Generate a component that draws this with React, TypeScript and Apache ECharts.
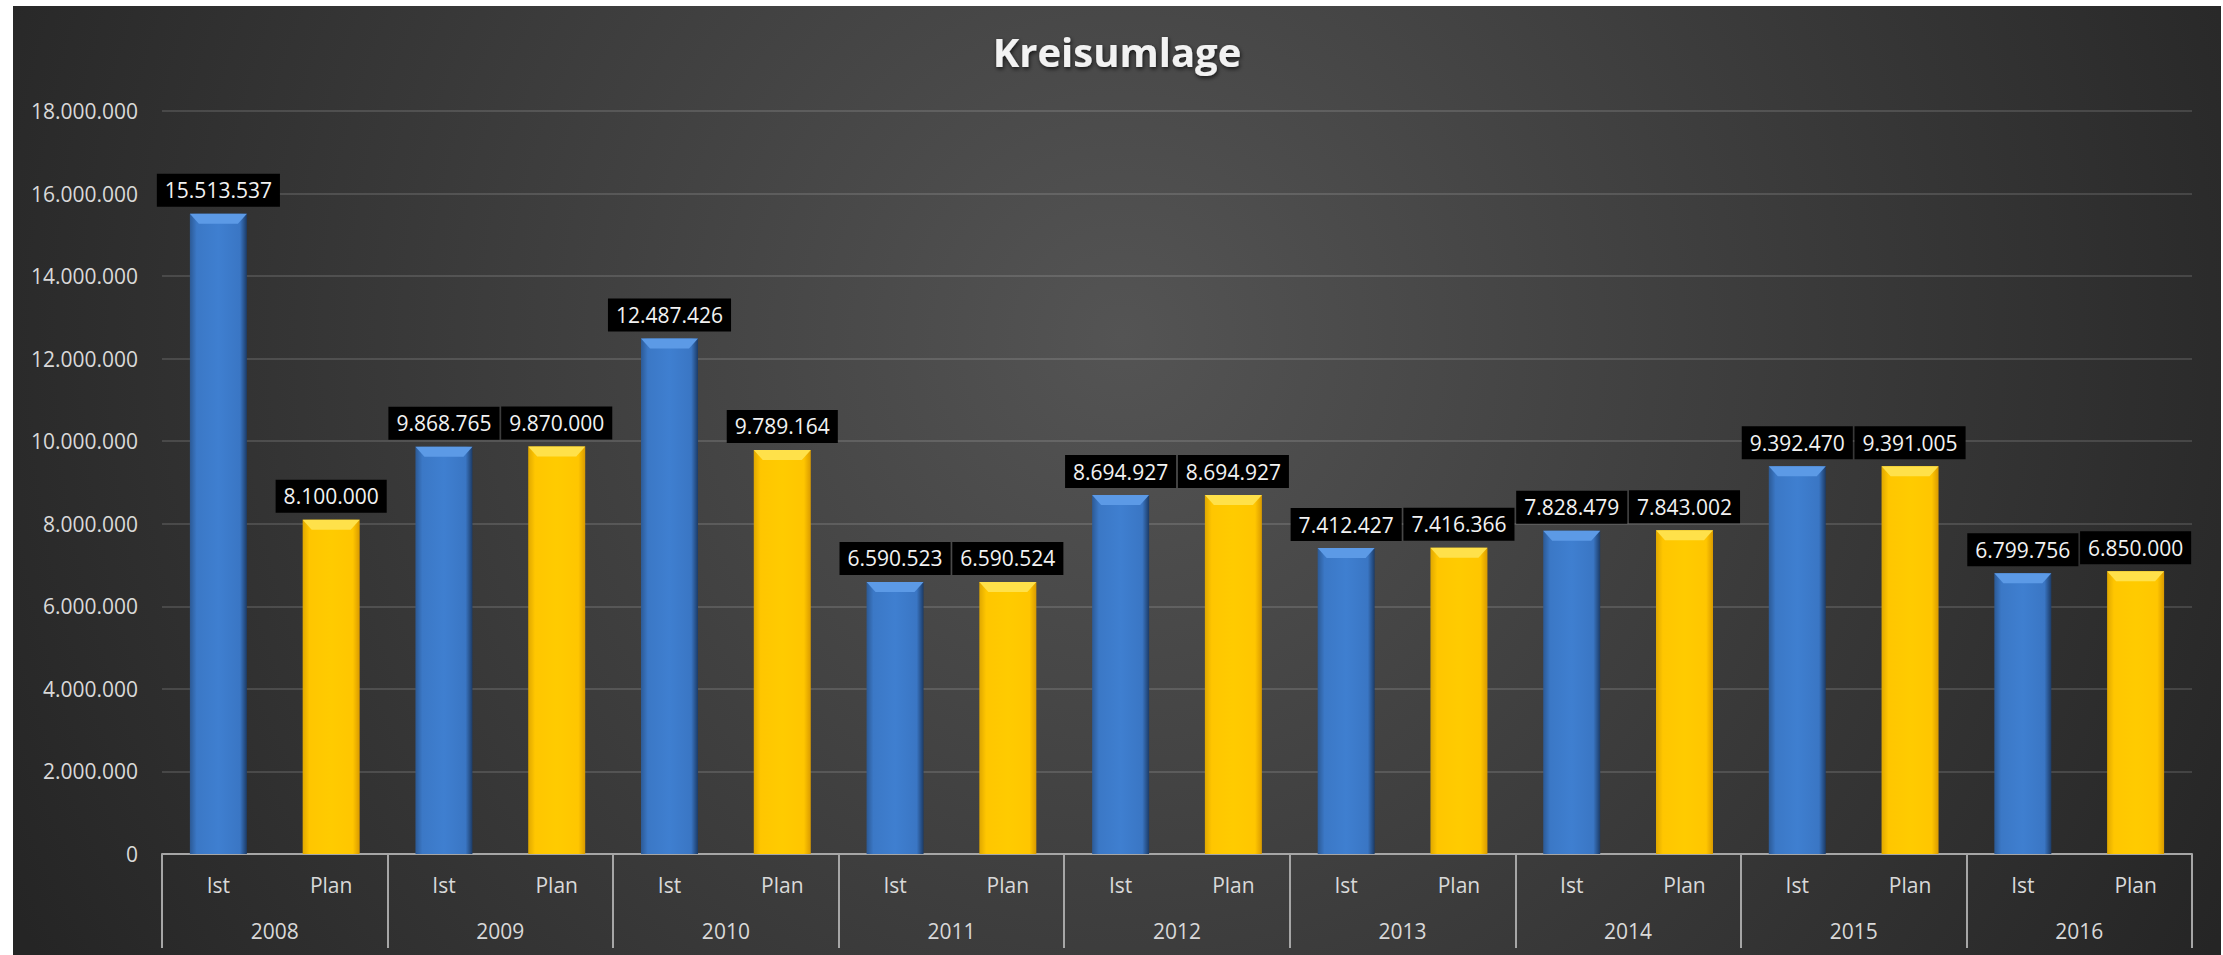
import React, { useEffect, useRef } from "react";
import * as echarts from "echarts";

const years = ["2008", "2009", "2010", "2011", "2012", "2013", "2014", "2015", "2016"];
const kinds = ["Ist", "Plan"];
const istValues = [15513537, 9868765, 12487426, 6590523, 8694927, 7412427, 7828479, 9392470, 6799756];
const planValues = [8100000, 9870000, 9789164, 6590524, 8694927, 7416366, 7843002, 9391005, 6850000];
const yTicks = { min: 0, max: 18000000, interval: 2000000 };

const fmt = (v: number) => String(Math.round(v)).replace(/\B(?=(\d{3})+(?!\d))/g, ".");

const FONT = "'Open Sans', 'Noto Sans', sans-serif";
const BAR_W = 57;

export default function App() {
  const ref = useRef<HTMLDivElement>(null);
  useEffect(() => {
    document.body.style.margin = "0";
    const chart = echarts.init(ref.current!, undefined, { renderer: "svg" });
    const subCats: string[] = [];
    years.forEach(() => kinds.forEach((k) => subCats.push(k)));
    const istData: (number | null)[] = [];
    const planData: (number | null)[] = [];
    years.forEach((_, i) => {
      istData.push(istValues[i], null);
      planData.push(null, planValues[i]);
    });
    const bevelIst = istValues.map((v, i) => [i * 2, v]);
    const bevelPlan = planValues.map((v, i) => [i * 2 + 1, v]);

    const blueGrad = new echarts.graphic.LinearGradient(0, 0, 1, 0, [
      { offset: 0, color: "#2c5a96" },
      { offset: 0.12, color: "#3b78c6" },
      { offset: 0.5, color: "#3f7fd0" },
      { offset: 0.88, color: "#3a76c4" },
      { offset: 1, color: "#1c3b66" },
    ]);
    const yellowGrad = new echarts.graphic.LinearGradient(0, 0, 1, 0, [
      { offset: 0, color: "#e0a800" },
      { offset: 0.12, color: "#ffc600" },
      { offset: 0.5, color: "#ffcb00" },
      { offset: 0.88, color: "#ffc600" },
      { offset: 1, color: "#d99a00" },
    ]);

    const label = {
      show: true,
      position: "top" as const,
      distance: 7,
      backgroundColor: "#000",
      padding: [6, 8, 6, 8],
      color: "#f2f2f2",
      fontSize: 21,
      fontFamily: FONT,
      formatter: (p: any) => fmt(p.value),
    };

    const bevelSeries = (data: number[][], color: string) => ({
      type: "custom" as const,
      xAxisIndex: 0,
      yAxisIndex: 0,
      silent: true,
      z: 3,
      data,
      renderItem: (params: any, api: any) => {
        const top = api.coord([api.value(0), api.value(1)]);
        const hw = BAR_W / 2;
        const b = 10;
        const x = top[0];
        const y = top[1];
        return {
          type: "polygon",
          shape: {
            points: [
              [x - hw, y],
              [x + hw, y],
              [x + hw - b * 0.9, y + b],
              [x - hw + b * 0.9, y + b],
            ],
          },
          style: { fill: color },
        };
      },
    });

    chart.setOption({
      animation: false,
      backgroundColor: {
        type: "radial",
        x: 1110,
        y: 330,
        r: 1250,
        global: true,
        colorStops: [
          { offset: 0, color: "#545454" },
          { offset: 1, color: "#252525" },
        ],
      },
      title: {
        text: "Kreisumlage",
        left: "center",
        top: 20,
        textStyle: {
          color: "#f2f2f2",
          fontSize: 40,
          fontWeight: "bold",
          fontFamily: FONT,
          textShadowColor: "rgba(0,0,0,0.7)",
          textShadowBlur: 4,
          textShadowOffsetY: 2,
          textShadowOffsetX: 1,
        },
      },
      grid: { left: 149, right: 29, top: 105, bottom: 101 },
      xAxis: [
        {
          type: "category",
          data: subCats,
          axisTick: { show: false },
          axisLine: { show: true, lineStyle: { color: "#a6a6a6", width: 2 } },
          axisLabel: { color: "#d9d9d9", fontSize: 21, fontFamily: FONT, margin: 20, interval: 0 },
          splitLine: { show: false },
        },
        {
          type: "category",
          data: years,
          position: "bottom",
          axisLine: { show: false },
          axisTick: { show: true, length: 94, interval: 0, lineStyle: { color: "#a6a6a6", width: 2 } },
          axisLabel: { color: "#d9d9d9", fontSize: 21, fontFamily: FONT, margin: 66, interval: 0 },
          splitLine: { show: false },
        },
      ],
      yAxis: {
        type: "value",
        min: yTicks.min,
        max: yTicks.max,
        interval: yTicks.interval,
        axisLine: { show: false },
        axisTick: { show: false },
        axisLabel: { color: "#d9d9d9", fontSize: 21, fontFamily: FONT, margin: 24, formatter: (v: number) => fmt(v) },
        splitLine: { lineStyle: { color: "rgba(255,255,255,0.13)", width: 2 } },
      },
      series: [
        {
          name: "Ist",
          type: "bar",
          data: istData,
          barWidth: BAR_W,
          barGap: "-100%",
          itemStyle: { color: blueGrad },
          label,
          z: 2,
        },
        {
          name: "Plan",
          type: "bar",
          data: planData,
          barWidth: BAR_W,
          barGap: "-100%",
          itemStyle: { color: yellowGrad },
          label,
          z: 2,
        },
        bevelSeries(bevelIst, "#5c9ae6"),
        bevelSeries(bevelPlan, "#ffe14a"),
      ],
    });
    return () => chart.dispose();
  }, []);
  return (
    <div
      ref={ref}
      style={{ position: "absolute", left: 13, top: 6, width: 2208, height: 949 }}
    />
  );
}
